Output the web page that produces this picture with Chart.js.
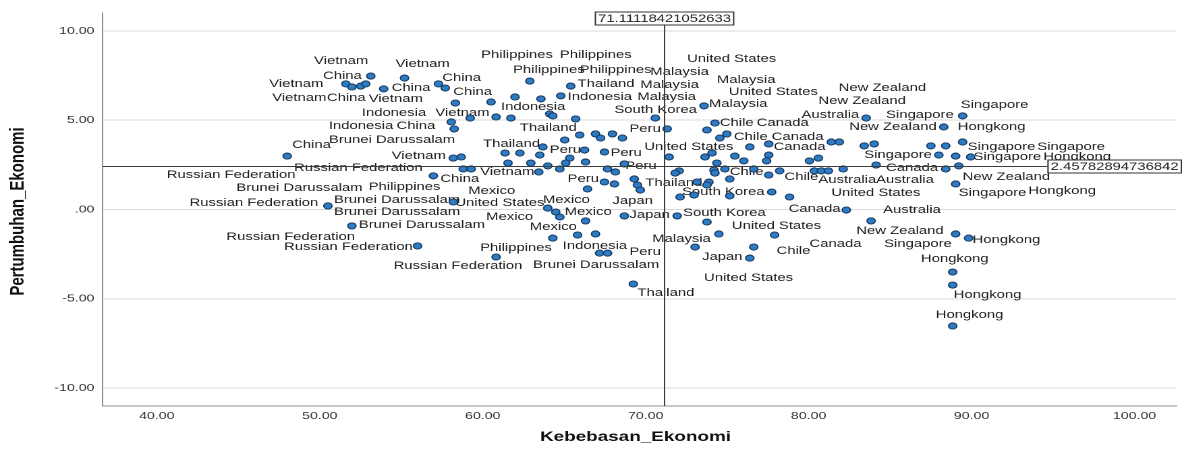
<!DOCTYPE html>
<html>
<head>
<meta charset="utf-8">
<script src="https://cdn.jsdelivr.net/npm/chart.js@4.4.1/dist/chart.umd.min.js"></script>
<style>
  html, body { margin: 0; padding: 0; background: #fff; overflow: hidden; }
  #chart { display: block; }
</style>
</head>
<body>
<!-- the original picture is a horizontally stretched export, so the canvas is stretched too -->
<canvas id="chart" width="876" height="454" style="width:1182px;height:454px"></canvas>
<script>
// Kebebasan_Ekonomi (x) and Pertumbuhan_Ekonomi (y), one entry per country-year
const freedom = [
  53.13, 51.60, 51.97, 52.52, 52.82, 53.92, 55.20, 57.28, 57.70, 58.32,
  60.51, 58.07, 58.25, 59.23, 60.82, 61.73, 61.98, 63.57, 64.11, 64.30,
  62.89, 65.40, 64.79, 65.70, 65.03, 65.95, 66.92, 67.23, 67.96, 68.57,
  48.00, 50.50, 51.97, 56.00, 56.97, 58.19, 58.68, 58.80, 59.29, 61.37,
  62.28, 63.50, 63.69, 66.25, 67.47, 65.34, 65.09, 66.31,
  61.55, 62.95, 63.99, 64.73, 67.66, 68.14, 68.69, 63.44, 67.47, 68.08,
  66.43, 69.30, 69.49, 69.67, 58.19, 63.99, 64.48, 64.73, 68.69, 66.31,
  64.30, 65.82, 66.92, 60.82, 67.17, 67.66, 69.24, 70.59, 71.32, 73.58,
  74.25, 73.76, 74.55, 74.98, 76.39, 77.55, 71.44, 73.64, 74.07, 75.47,
  76.02, 77.55, 77.42, 80.05, 80.60, 81.39, 81.88, 83.41, 84.02, 72.05,
  71.81, 74.37, 74.19, 74.86, 74.25, 76.63, 77.55, 78.22, 80.35, 80.78,
  81.21, 82.12, 84.14, 73.15, 73.88, 73.76, 75.16, 72.11, 72.97, 75.16,
  77.73, 78.83, 71.93, 82.31, 73.76, 83.83, 74.49, 77.91, 73.03, 76.63,
  76.39, 83.53, 89.45, 88.29, 87.50, 88.41, 89.45, 87.99, 89.02, 89.94,
  88.41, 89.21, 89.02, 89.02, 89.82, 88.84, 88.84, 88.84
];
const growth = [
  7.47, 7.03, 6.86, 6.91, 7.03, 6.75, 7.36, 7.03, 6.80, 5.96,
  6.02, 4.90, 4.51, 5.12, 5.18, 5.12, 6.30, 6.19, 5.35, 5.24,
  7.19, 6.91, 6.36, 5.07, 3.89, 4.17, 4.23, 4.00, 4.23, 4.00,
  2.99, 0.20, -0.92, -2.04, 1.88, 2.88, 2.94, 2.27, 2.27, 3.16,
  3.16, 3.05, 3.50, 3.33, 3.22, 2.88, 2.60, 2.66,
  2.60, 2.60, 2.44, 2.27, 2.27, 2.10, 2.55, 2.10, 1.54, 1.43,
  1.15, 1.71, 1.37, 1.09, 0.42, 0.08, -0.14, -0.42, -0.36, -0.64,
  -1.60, -1.43, -1.37, -2.66, -2.44, -2.44, -4.17, 5.12, 4.51, 5.80,
  4.84, 4.45, 4.00, 4.23, 3.50, 3.67, 2.94, 2.94, 3.16, 2.99,
  2.72, 3.05, 2.72, 2.72, 2.88, 3.78, 3.78, 3.56, 3.67, 2.16,
  2.04, 2.60, 2.21, 2.27, 2.04, 2.27, 1.93, 2.16, 2.16, 2.16,
  2.16, 2.27, 2.49, 1.54, 1.54, 1.37, 1.71, 0.70, 0.81, 0.76,
  0.98, 0.70, -0.36, -0.03, -0.70, -0.64, -1.37, -1.43, -2.10, -2.10,
  -2.72, 5.12, 5.24, 4.62, 3.56, 3.56, 3.78, 3.05, 2.99, 2.94,
  2.27, 2.44, 1.43, -1.37, -1.60, -3.50, -4.23, -6.52
];

// case labels as SPSS placed them (start of text, middle of line), in axis units
const labelText = [
  'Vietnam', 'Vietnam', 'Philippines', 'Philippines', 'Philippines', 'Philippines', 'Malaysia', 'United States',
  'China', 'China', 'Malaysia', 'Vietnam', 'China', 'Thailand', 'Malaysia', 'New Zealand',
  'China', 'United States', 'Vietnam', 'China', 'Vietnam', 'Indonesia', 'Malaysia', 'New Zealand',
  'Indonesia', 'Malaysia', 'South Korea', 'Singapore', 'Indonesia', 'Vietnam', 'Australia', 'Singapore',
  'Indonesia', 'China', 'Chile', 'Canada', 'New Zealand', 'Hongkong', 'Thailand', 'Peru',
  'Chile', 'Canada', 'China', 'Brunei Darussalam', 'Thailand', 'Peru', 'Peru', 'United States',
  'Canada', 'Singapore', 'Singapore', 'Vietnam', 'Singapore', 'Singapore', 'Hongkong', 'Russian Federation',
  'Peru', 'Chile', 'Canada', 'Vietnam', 'Russian Federation', 'China', 'Peru', 'Chile',
  'Australia', 'Australia', 'New Zealand', 'Thailand', 'Brunei Darussalam', 'Philippines', 'Mexico', 'South Korea',
  'United States', 'Singapore', 'Hongkong', 'Russian Federation', 'Brunei Darussalam', 'United States', 'Mexico', 'Japan',
  'Canada', 'Australia', 'Brunei Darussalam', 'Mexico', 'Japan', 'South Korea', 'Mexico', 'Brunei Darussalam',
  'Mexico', 'United States', 'New Zealand', 'Russian Federation', 'Malaysia', 'Hongkong', 'Canada', 'Singapore',
  'Russian Federation', 'Philippines', 'Indonesia', 'Peru', 'Chile', 'Japan', 'Hongkong', 'Russian Federation',
  'Brunei Darussalam', 'United States', 'Thailand', 'Hongkong', 'Hongkong'
];
const labelAtX = [
  49.65, 54.65, 59.90, 64.73, 61.86, 65.95, 70.28, 72.54,
  50.20, 57.52, 74.37, 46.90, 54.41, 65.82, 69.67, 81.84,
  58.19, 75.10, 47.08, 50.44, 53.00, 65.21, 69.49, 80.60,
  61.12, 73.88, 68.08, 89.33, 52.58, 57.09, 79.56, 84.75,
  50.56, 54.71, 74.55, 76.81, 82.49, 89.15, 62.28, 69.00,
  75.41, 77.73, 48.30, 50.56, 60.02, 64.11, 67.84, 69.91,
  77.85, 89.76, 94.03, 54.41, 83.41, 90.12, 94.40, 48.42,
  68.75, 75.16, 84.75, 59.84, 40.61, 57.40, 65.21, 78.52,
  80.60, 84.14, 89.45, 69.98, 44.88, 53.00, 59.11, 72.23,
  81.39, 89.21, 93.48, 42.01, 50.87, 58.32, 63.69, 67.96,
  78.77, 84.57, 50.87, 65.03, 69.00, 72.30, 60.21, 52.39,
  62.89, 75.29, 82.92, 44.27, 70.40, 90.06, 80.05, 84.63,
  47.81, 59.84, 64.91, 69.00, 78.03, 73.46, 86.89, 54.53,
  63.08, 73.58, 69.49, 88.90, 87.80
];
const labelAtY = [
  8.31, 8.15, 8.65, 8.65, 7.81, 7.81, 7.70, 8.43,
  7.47, 7.36, 7.25, 7.03, 6.80, 7.03, 6.97, 6.80,
  6.58, 6.58, 6.24, 6.24, 6.19, 6.30, 6.30, 6.08,
  5.74, 5.91, 5.57, 5.85, 5.40, 5.40, 5.29, 5.29,
  4.68, 4.68, 4.84, 4.84, 4.62, 4.62, 4.56, 4.51,
  4.06, 4.06, 3.61, 3.89, 3.67, 3.33, 3.16, 3.50,
  3.50, 3.50, 3.50, 3.00, 3.05, 2.94, 2.94, 2.32,
  2.44, 2.10, 2.32, 2.10, 1.93, 1.71, 1.71, 1.82,
  1.65, 1.65, 1.82, 1.48, 1.20, 1.26, 1.04, 0.98,
  0.92, 0.92, 1.04, 0.36, 0.53, 0.36, 0.53, 0.48,
  0.03, -0.03, -0.14, -0.14, -0.31, -0.20, -0.42, -0.87,
  -0.98, -0.92, -1.20, -1.54, -1.65, -1.71, -1.93, -1.93,
  -2.10, -2.16, -2.04, -2.38, -2.32, -2.66, -2.77, -3.16,
  -3.11, -3.84, -4.68, -4.79, -5.91
];

const xTicks = [40, 50, 60, 70, 80, 90, 100];
const xTickLabels = ['40.00', '50.00', '60.00', '70.00', '80.00', '90.00', '100.00'];
const yTicks = [-10, -5, 0, 5, 10];
const yTickLabels = ['-10.00', '-5.00', '.00', '5.00', '10.00'];
const meanFreedom = 71.11118421052633;
const meanGrowth = 2.45782894736842;

const FONT = '"Liberation Sans", Arial, sans-serif';

function boxedText(ctx, text, cx, cy, alignLeft) {
  const w = ctx.measureText(text).width + 5;
  const h = 14;
  const left = alignLeft ? cx : cx - w / 2;
  ctx.fillStyle = '#fff';
  ctx.fillRect(left, cy - h / 2, w, h);
  ctx.strokeStyle = '#333';
  ctx.lineWidth = 1;
  ctx.strokeRect(left + 0.5, cy - h / 2 + 0.5, w - 1, h - 1);
  ctx.fillStyle = '#222';
  ctx.textAlign = 'left';
  ctx.textBaseline = 'middle';
  ctx.fillText(text, left + 2.5, cy + 0.5);
}

const caseLabels = {
  id: 'caseLabels',
  beforeDatasetsDraw(chart) {
    const { ctx, scales: { x, y } } = chart;
    ctx.save();
    ctx.font = '11px ' + FONT;
    ctx.fillStyle = '#1c1c1c';
    ctx.textAlign = 'left';
    ctx.textBaseline = 'middle';
    labelText.forEach((t, i) => {
      ctx.fillText(t, x.getPixelForValue(labelAtX[i]), y.getPixelForValue(labelAtY[i]));
    });
    ctx.restore();
  },
  afterDatasetsDraw(chart) {
    const { ctx, chartArea: a, scales: { x, y } } = chart;
    const vx = Math.round(x.getPixelForValue(meanFreedom)) + 0.5;
    const hy = Math.round(y.getPixelForValue(meanGrowth)) + 0.5;
    ctx.save();
    ctx.strokeStyle = '#3c3c3c';
    ctx.lineWidth = 1;
    ctx.beginPath();
    ctx.moveTo(vx, a.top);
    ctx.lineTo(vx, a.bottom);
    ctx.moveTo(a.left, hy);
    ctx.lineTo(a.right, hy);
    ctx.stroke();

    ctx.font = '11px ' + FONT;
    boxedText(ctx, String(meanFreedom), vx, a.top + 5.5, false);
    const hText = String(meanGrowth);
    const hw = ctx.measureText(hText).width + 5;
    boxedText(ctx, hText, a.right - hw + 4, hy, true);
    ctx.restore();
  },
  afterDraw(chart) {
    const { ctx, chartArea: a } = chart;
    ctx.save();
    ctx.fillStyle = '#111';
    ctx.textAlign = 'center';
    ctx.textBaseline = 'middle';
    ctx.font = 'bold 14px ' + FONT;
    ctx.fillText('Kebebasan_Ekonomi', (a.left + a.right) / 2 - 3, 437);
    ctx.translate(13.5, (a.top + a.bottom) / 2 + 2);
    ctx.rotate(-Math.PI / 2);
    ctx.font = 'bold 15px ' + FONT;
    ctx.fillText('Pertumbuhan_Ekonomi', 0, 0);
    ctx.restore();
  }
};

new Chart(document.getElementById('chart'), {
  type: 'scatter',
  data: {
    datasets: [{
      data: freedom.map((v, i) => ({ x: v, y: growth[i] })),
      backgroundColor: '#2c7bc4',
      borderColor: '#17365a',
      borderWidth: 0.9,
      pointRadius: 3.1,
      pointHoverRadius: 3.1
    }]
  },
  options: {
    responsive: false,
    animation: false,
    devicePixelRatio: 2,
    events: [],
    layout: { padding: { top: 13, right: 0, left: 0, bottom: 0 } },
    plugins: {
      legend: { display: false },
      tooltip: { enabled: false }
    },
    scales: {
      x: {
        type: 'linear',
        min: 36.67,
        max: 102.58,
        afterBuildTicks: s => { s.ticks = xTicks.map(v => ({ value: v })); },
        afterFit: s => { s.height = 48; },
        grid: { display: false, drawTicks: false },
        border: { display: true, color: '#8f8f8f', width: 1 },
        ticks: {
          autoSkip: false,
          maxRotation: 0,
          padding: 4,
          color: '#333',
          font: { family: FONT, size: 10.5 },
          callback: v => xTickLabels[xTicks.indexOf(v)]
        }
      },
      y: {
        type: 'linear',
        min: -11,
        max: 11,
        afterBuildTicks: s => { s.ticks = yTicks.map(v => ({ value: v })); },
        afterFit: s => { s.width = 76; },
        grid: { color: '#d9d9d9', lineWidth: 1, drawTicks: false },
        border: { display: true, color: '#8f8f8f', width: 1 },
        ticks: {
          padding: 6,
          color: '#333',
          font: { family: FONT, size: 10.5 },
          callback: v => yTickLabels[yTicks.indexOf(v)]
        }
      }
    }
  },
  plugins: [caseLabels]
});
</script>
</body>
</html>
